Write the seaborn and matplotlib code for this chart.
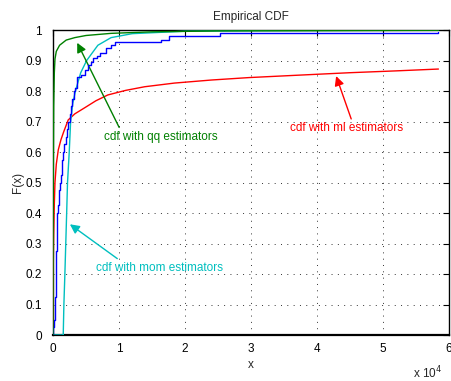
import matplotlib
matplotlib.use("Agg")
import matplotlib.pyplot as plt
import seaborn as sns
import pandas as pd

# ---- data ----
emp_x = [0, 60, 150, 230, 300, 340, 380, 420, 450, 480, 500, 530, 560, 590, 610, 630, 650,
         750, 850, 950, 1050, 1170, 1300, 1420, 1550, 1720, 1900, 2100, 2300, 2500,
         2700, 2950, 3200, 3400, 3570, 4300, 4800, 5300, 5700, 6100, 6600, 7100, 8100, 8800,
         9400, 16400, 17500, 25300, 58400]
emp_y = [0, 0.025, 0.05, 0.075, 0.10, 0.125, 0.15, 0.175, 0.20, 0.225, 0.25, 0.275, 0.30,
         0.325, 0.35, 0.375, 0.40, 0.425, 0.45, 0.475, 0.50, 0.525, 0.55, 0.575, 0.60,
         0.625, 0.65, 0.675, 0.70, 0.725, 0.75, 0.775, 0.80, 0.81, 0.847, 0.852, 0.87,
         0.885, 0.895, 0.907, 0.915, 0.924, 0.94, 0.951, 0.962, 0.968, 0.98, 0.99, 0.994]

ml_x = [0, 20, 50, 100, 200, 300, 500, 800, 1200, 1600, 2300, 3300, 4800, 6500, 8300,
        11000, 13900, 18400, 24000, 29700, 37300, 45000, 52000, 58400]
ml_y = [0, 0.15, 0.25, 0.33, 0.43, 0.50, 0.56, 0.607, 0.64, 0.665, 0.705, 0.725, 0.745, 0.768, 0.787,
        0.802, 0.814, 0.826, 0.836, 0.844, 0.852, 0.86, 0.866, 0.872]

qq_x = [0, 20, 50, 100, 200, 300, 500, 1000, 2000, 3300, 5000, 8800, 15000, 25000, 58400]
qq_y = [0, 0.35, 0.55, 0.75, 0.86, 0.905, 0.93, 0.95, 0.967, 0.975, 0.982, 0.989, 0.994, 0.997, 0.999]

mom_x = [0, 1550, 1650, 1800, 2070, 2200, 2460, 2670, 3000, 3400, 4200, 5100, 6800, 8800,
         12000, 20000, 30000, 58400]
mom_y = [0, 0, 0.1, 0.2, 0.4, 0.5, 0.6, 0.7, 0.76, 0.8, 0.86, 0.9, 0.95, 0.975,
         0.988, 0.996, 0.998, 0.9995]

x_ticks = [0, 1, 2, 3, 4, 5, 6]
y_ticks = [0, 0.1, 0.2, 0.3, 0.4, 0.5, 0.6, 0.7, 0.8, 0.9, 1]
y_tick_labels = ["0", "0.1", "0.2", "0.3", "0.4", "0.5", "0.6", "0.7", "0.8", "0.9", "1"]

labels = {"qq": "cdf with qq estimators",
          "ml": "cdf with ml estimators",
          "mom": "cdf with mom estimators"}

# ---- style ----
sns.set_style("white")
plt.rcParams["font.family"] = ["Liberation Sans", "DejaVu Sans"]

C_BLUE = "#0000FF"
C_RED = "#FF0000"
C_GREEN = "#008000"
C_CYAN = "#00BFBF"

fig = plt.figure(figsize=(4.51, 3.81), dpi=100)
ax = fig.add_axes([53 / 451, 46 / 381, 396 / 451, 305 / 381])

emp = pd.DataFrame({"x": emp_x, "F": emp_y})
ml = pd.DataFrame({"x": ml_x, "F": ml_y})
qq = pd.DataFrame({"x": qq_x, "F": qq_y})
mom = pd.DataFrame({"x": mom_x, "F": mom_y})

sns.lineplot(data=ml, x="x", y="F", ax=ax, color=C_RED, lw=1.0, sort=False, zorder=3)
sns.lineplot(data=mom, x="x", y="F", ax=ax, color=C_CYAN, lw=1.0, sort=False, zorder=3)
sns.lineplot(data=emp, x="x", y="F", ax=ax, color=C_BLUE, lw=1.0, sort=False,
             drawstyle="steps-post", zorder=4)
sns.lineplot(data=qq, x="x", y="F", ax=ax, color=C_GREEN, lw=1.0, sort=False, zorder=5)

ax.set_xlim(0, 60000)
ax.set_ylim(0, 1)
ax.set_xticks([t * 1e4 for t in x_ticks])
ax.set_xticklabels([str(t) for t in x_ticks])
ax.set_yticks(y_ticks)
ax.set_yticklabels(y_tick_labels)

ax.grid(True, color="black", linestyle=(0, (1, 5.5)), linewidth=0.7, alpha=0.8)
for s in ax.spines.values():
    s.set_visible(True)
    s.set_color("black")
    s.set_linewidth(1.0)
ax.spines["bottom"].set_linewidth(1.6)
ax.tick_params(direction="in", length=4, width=0.8, top=True, right=True,
               labelsize=8.5, colors="black")
ax.tick_params(axis="y", pad=8)
ax.tick_params(axis="x", pad=6)

ax.set_title("Empirical CDF", fontsize=8.5, pad=7)
ax.set_xlabel("x", fontsize=8.5, labelpad=3)
ax.set_ylabel("F(x)", fontsize=8.5, labelpad=1)
fig.text(428 / 451, 1 - 373 / 381, r"x 10$^{4}$", fontsize=8.5, ha="center", va="center")

fs = 8.5
ax.annotate(labels["qq"], xy=(3670, 0.958), xytext=(16300, 0.650),
            color=C_GREEN, fontsize=fs, ha="center", va="center",
            arrowprops=dict(arrowstyle="-|>", color=C_GREEN, lw=1.0, mutation_scale=14,
                            shrinkA=0, shrinkB=0, relpos=(0.15, 1.0)))
ax.annotate(labels["ml"], xy=(42900, 0.849), xytext=(44500, 0.678),
            color=C_RED, fontsize=fs, ha="center", va="center",
            arrowprops=dict(arrowstyle="-|>", color=C_RED, lw=1.0, mutation_scale=14,
                            shrinkA=0, shrinkB=0, relpos=(0.55, 1.0)))
ax.annotate(labels["mom"], xy=(2560, 0.363), xytext=(16200, 0.220),
            color=C_CYAN, fontsize=fs, ha="center", va="center",
            arrowprops=dict(arrowstyle="-|>", color=C_CYAN, lw=1.0, mutation_scale=14,
                            shrinkA=0, shrinkB=0, relpos=(0.2, 1.0)))

fig.savefig("out.png", dpi=100)
